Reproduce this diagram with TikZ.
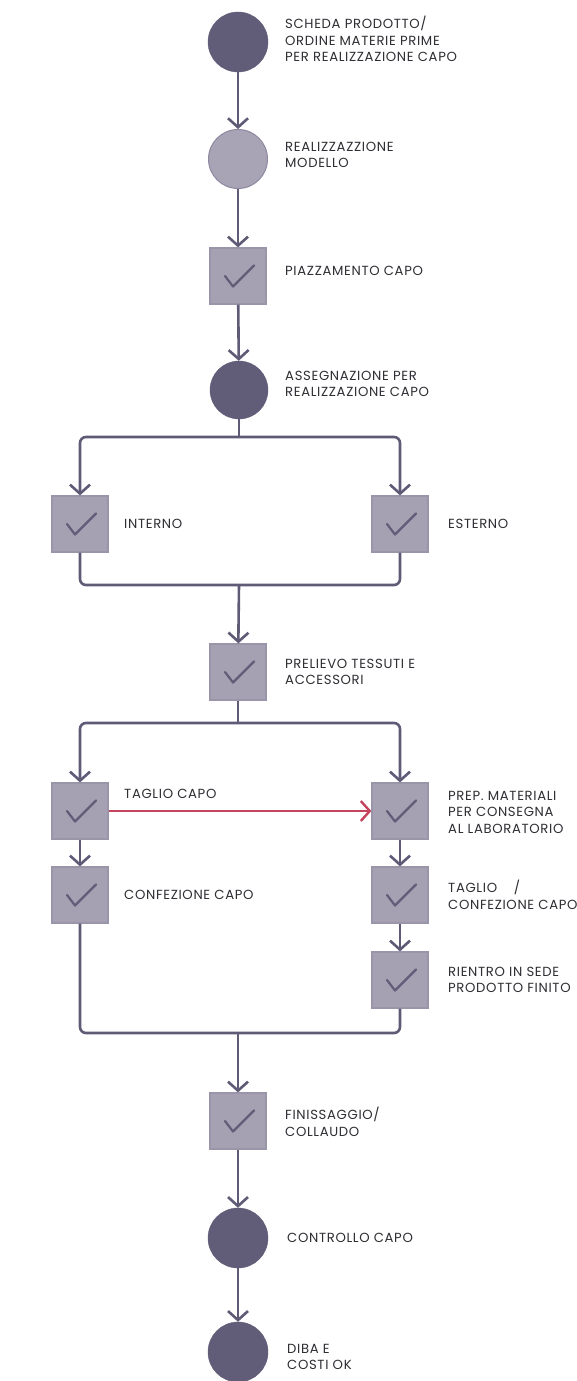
\documentclass[tikz,border=0pt]{standalone}
\usepackage{fontspec}
\setmainfont[LetterSpace=5]{Poppins}
\usetikzlibrary{arrows.meta}
\definecolor{dk}{HTML}{615C77}
\definecolor{ln}{HTML}{5F5A75}
\definecolor{lt}{HTML}{A8A3B5}
\definecolor{ltb}{HTML}{8E89A0}
\definecolor{sqf}{HTML}{A5A0B2}
\definecolor{sqb}{HTML}{9A95A9}
\definecolor{rd}{HTML}{C4435D}
\definecolor{txt}{HTML}{2E2E34}
\begin{document}
\begin{tikzpicture}[x=1pt,y=-1pt,
  circdark/.style={circle, fill=dk, draw=dk, minimum size=60pt, inner sep=0pt},
  circlight/.style={circle, fill=lt, draw=ltb, line width=1pt, minimum size=59pt, inner sep=0pt},
  sq/.style={rectangle, fill=sqf, draw=sqb, line width=1.2pt, minimum size=56pt, inner sep=0pt,
    path picture={\draw[dk, line width=2.2pt, line cap=round, line join=round]
      ([shift={(-13,0)}]path picture bounding box.center) -- ++(8,10.5) -- ++(21,-21);}},
  lbl/.style={anchor=west, align=left, font=\fontsize{13.2}{16.5}\selectfont, text=txt, inner sep=0pt},
  line/.style={draw=ln, line width=2.6pt},
  conn/.style={line, -{Straight Barb[length=9pt,width=20pt]}},
  redconn/.style={draw=rd, line width=2.4pt, -{Straight Barb[length=9pt,width=20pt]}}
]
\useasboundingbox (0,0) rectangle (576,1381);
\fill[white] (0,0) rectangle (576,1381);

% nodes
\node[circdark] (c1) at (238,42) {};
\node[circlight] (c2) at (238,159) {};
\node[sq] (s1) at (238,276) {};
\node[circdark, minimum size=58pt] (c4) at (239,390) {};
\node[sq] (int) at (80,524) {};
\node[sq] (ext) at (400,524) {};
\node[sq] (prel) at (238,672) {};
\node[sq] (tag) at (80,811) {};
\node[sq] (conf) at (80,895) {};
\node[sq] (prep) at (400,811) {};
\node[sq] (tc) at (400,895) {};
\node[sq] (rie) at (400,980) {};
\node[sq] (fin) at (238,1121) {};
\node[circdark] (ctrl) at (238,1238) {};
\node[circdark] (diba) at (238,1352) {};

\coordinate (b1) at (239,437);
\coordinate (m1) at (239,585);
\coordinate (b2) at (238,723);
\coordinate (m2) at (238,1033);

% labels
\node[lbl] (l1) at (285,39) {SCHEDA PRODOTTO/\\ORDINE MATERIE PRIME\\PER REALIZZAZIONE CAPO};
\node[lbl] (l2) at (285,155) {REALIZZAZZIONE\\MODELLO};
\node[lbl] (l3) at (285,271) {PIAZZAMENTO CAPO};
\node[lbl] (l4) at (285,384) {ASSEGNAZIONE PER\\REALIZZAZIONE CAPO};
\node[lbl] (l5) at (124,524) {INTERNO};
\node[lbl] (l6) at (448,524) {ESTERNO};
\node[lbl] (l7) at (285,672) {PRELIEVO TESSUTI E\\ACCESSORI};
\node[lbl] (l8) at (124,794) {TAGLIO CAPO};
\node[lbl] (l9) at (448,812) {PREP. MATERIALI\\PER CONSEGNA\\AL LABORATORIO};
\node[lbl] (l10) at (124,895) {CONFEZIONE CAPO};
\node[lbl] (l11) at (448,895) {TAGLIO\ \ \ \ /\\CONFEZIONE CAPO};
\node[lbl] (l12) at (448,980) {RIENTRO IN SEDE\\PRODOTTO FINITO};
\node[lbl] (l13) at (285,1122) {FINISSAGGIO/\\COLLAUDO};
\node[lbl] (l14) at (287,1238) {CONTROLLO CAPO};
\node[lbl] (l15) at (287,1357) {DIBA E\\COSTI OK};

% connectors
\draw[conn] (c1) -- (c2);
\draw[conn] (c2) -- (s1);
\draw[conn] (s1) -- (c4);
\draw[line] (c4) -- (b1);
\draw[conn, rounded corners=6pt] (b1) -| (int);
\draw[conn, rounded corners=6pt] (b1) -| (ext);
\draw[line, rounded corners=6pt] (int.south) |- (m1) -| (ext.south);
\draw[conn] (m1) -- (prel);
\draw[line] (prel) -- (b2);
\draw[conn, rounded corners=6pt] (b2) -| (tag);
\draw[conn, rounded corners=6pt] (b2) -| (prep);
\draw[conn] (tag) -- (conf);
\draw[conn] (prep) -- (tc);
\draw[conn] (tc) -- (rie);
\draw[redconn] (tag) -- (prep);
\draw[line, rounded corners=6pt] (conf.south) |- (m2) -| (rie.south);
\draw[conn] (m2) -- (fin);
\draw[conn] (fin) -- (ctrl);
\draw[conn] (ctrl) -- (diba);
\end{tikzpicture}
\end{document}
